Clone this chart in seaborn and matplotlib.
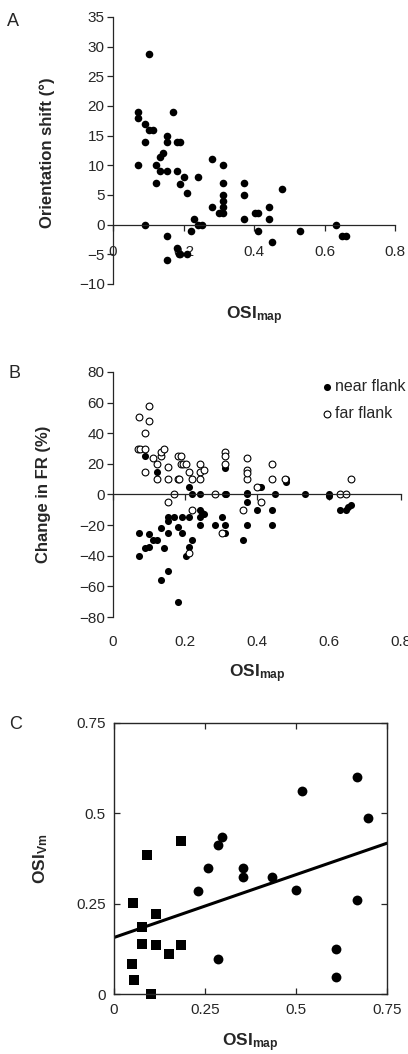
import matplotlib
matplotlib.use('Agg')
import matplotlib.pyplot as plt
import seaborn as sns

# panel A: orientation shift vs OSI_map
shift_osi = [0.103, 0.071, 0.071, 0.071, 0.092, 0.092, 0.092, 0.103, 0.113, 0.122,
             0.122, 0.132, 0.141, 0.132, 0.152, 0.152, 0.152, 0.152, 0.152, 0.170,
             0.182, 0.191, 0.182, 0.191, 0.201, 0.210, 0.182, 0.186, 0.191, 0.210,
             0.220, 0.230, 0.241, 0.241, 0.253, 0.281, 0.281, 0.300, 0.312, 0.312,
             0.312, 0.312, 0.312, 0.312, 0.370, 0.370, 0.370, 0.402, 0.412, 0.412,
             0.442, 0.442, 0.452, 0.480, 0.529, 0.632, 0.649, 0.660]
shift_deg = [28.8, 19, 17.9, 10, 17, 14, 0, 16, 16, 10,
             7, 11.4, 12, 9, 15, 14, 9, -2, -6, 19,
             14, 14, 9, 6.8, 8, 5.4, -4, -5, -5, -5,
             -1, 1, 8, 0, 0, 11, 3, 2, 2, 10,
             7, 5, 4, 3, 7, 5, 1, 2, 2, -1,
             3, 1, -3, 6, -1, 0, -2, -2]

# panel B: change in firing rate, near and far flank
near_osi = [0.090, 0.123, 0.072, 0.072, 0.090, 0.101, 0.101, 0.111, 0.123, 0.132,
            0.141, 0.132, 0.152, 0.152, 0.152, 0.152, 0.170, 0.191, 0.180, 0.191,
            0.180, 0.211, 0.220, 0.211, 0.220, 0.211, 0.202, 0.241, 0.241, 0.247,
            0.252, 0.241, 0.241, 0.282, 0.302, 0.311, 0.311, 0.311, 0.311, 0.315,
            0.371, 0.371, 0.371, 0.371, 0.362, 0.401, 0.405, 0.411, 0.442, 0.442,
            0.451, 0.481, 0.481, 0.532, 0.599, 0.600, 0.630, 0.648, 0.654, 0.660]
near_fr = [25, 15, -25, -40, -35, -34, -26, -30, -30, -22,
           -35, -56, -50, -25, -17, -15, -15, -15, -21, -25,
           -70, 5, 0, -15, -30, -34, -40, 0, -10, -12,
           -13, -15, -20, -20, -15, -20, -25, 17, 0, 0,
           0, 1, -5, -20, -30, -10, 5, 5, -10, -20,
           0, 10, 8, 0, 0, -1, -10, -10, -8, -7]
far_osi = [0.072, 0.101, 0.101, 0.090, 0.070, 0.074, 0.090, 0.111, 0.132, 0.134,
           0.141, 0.123, 0.090, 0.152, 0.123, 0.152, 0.180, 0.184, 0.180, 0.190,
           0.190, 0.195, 0.204, 0.211, 0.220, 0.241, 0.241, 0.252, 0.241, 0.169,
           0.152, 0.220, 0.211, 0.282, 0.302, 0.311, 0.311, 0.311, 0.371, 0.371,
           0.371, 0.362, 0.399, 0.410, 0.442, 0.442, 0.479, 0.630, 0.648, 0.660,
           0.371]
far_fr = [50.5, 58, 48, 40, 30, 30, 30, 24, 25, 28,
          30, 20, 15, 18, 10, 10, 10, 10, 25, 25,
          20, 20, 20, 15, 10, 20, 15, 16, 10, 0,
          -5, -10, -38, 0, -25, 28, 25, 20, 24, 16,
          10, -10, 5, -5, 20, 10, 10, 0, 0, 10,
          14]

# panel C: OSI_Vm vs OSI_map
sq_osi_map = [0.052, 0.091, 0.185, 0.116, 0.076, 0.078, 0.116, 0.151, 0.183, 0.050, 0.056, 0.103]
sq_osi_vm = [0.253, 0.385, 0.423, 0.222, 0.187, 0.138, 0.135, 0.112, 0.135, 0.085, 0.039, 0.0]
circ_osi_map = [0.232, 0.257, 0.285, 0.298, 0.285, 0.354, 0.354, 0.435, 0.501, 0.517,
                0.611, 0.611, 0.668, 0.697, 0.668]
circ_osi_vm = [0.286, 0.349, 0.413, 0.434, 0.097, 0.350, 0.323, 0.324, 0.288, 0.561,
               0.124, 0.049, 0.600, 0.488, 0.260]
fit_intercept = 0.157
fit_slope = 0.347

ticks_08 = [0, 0.2, 0.4, 0.6, 0.8]
labels_08 = ['0', '0.2', '0.4', '0.6', '0.8']
ticks_075 = [0, 0.25, 0.5, 0.75]
labels_075 = ['0', '0.25', '0.5', '0.75']

sns.set_style('ticks')
plt.rcParams['font.family'] = ['Liberation Sans', 'DejaVu Sans']
plt.rcParams['mathtext.fontset'] = 'custom'
plt.rcParams['mathtext.rm'] = 'Liberation Sans'
plt.rcParams['mathtext.bf'] = 'Liberation Sans:bold'
plt.rcParams['font.size'] = 11
plt.rcParams['axes.linewidth'] = 0.9

osi_map_label = r'$\mathbf{OSI_{map}}$'
fs = 11      # tick labels
lfs = 12     # axis labels

fig = plt.figure(figsize=(4.08, 10.54), dpi=100)
axA = fig.add_axes([0.2770, 0.7306, 0.6915, 0.2533])
axB = fig.add_axes([0.2770, 0.4146, 0.7058, 0.2325])
axC = fig.add_axes([0.2794, 0.0566, 0.669, 0.2577])

# ---- A ----
sns.scatterplot(x=shift_osi, y=shift_deg, ax=axA, color='black', s=30,
                edgecolor='black', linewidth=0, clip_on=False)
axA.set_xlim(0, 0.8)
axA.set_ylim(-10, 35)
axA.set_yticks(range(-10, 36, 5))
axA.set_xticks(ticks_08, labels=labels_08)
axA.spines['bottom'].set_position(('data', 0))
axA.spines['top'].set_visible(False)
axA.spines['right'].set_visible(False)
axA.tick_params(axis='y', direction='out', length=4.5, width=0.9, labelsize=fs, pad=1.5)
axA.tick_params(axis='x', direction='out', length=4, width=0.9, labelsize=fs, pad=11)
axA.set_xlabel(osi_map_label, fontsize=lfs + 0.5, va='top')
axA.xaxis.set_label_coords(0.5, -0.075)
axA.set_ylabel('Orientation shift (°)', fontsize=lfs, fontweight='bold')
axA.yaxis.set_label_coords(-0.205, 0.49)

# ---- B ----
sns.scatterplot(x=near_osi, y=near_fr, ax=axB, color='black', s=26,
                edgecolor='black', linewidth=0, label='near flank', clip_on=False)
sns.scatterplot(x=far_osi, y=far_fr, ax=axB, s=24, facecolor='white',
                edgecolor='black', linewidth=0.8, label='far flank', clip_on=False)
axB.set_xlim(0, 0.8)
axB.set_ylim(-80, 80)
axB.set_yticks(range(-80, 81, 20))
axB.set_xticks(ticks_08)
axB.spines['bottom'].set_position(('data', 0))
axB.spines['top'].set_visible(False)
axB.spines['right'].set_visible(False)
axB.tick_params(axis='y', direction='out', length=4.5, width=0.9, labelsize=fs, pad=1.5)
axB.tick_params(axis='x', direction='out', length=4, width=0.9, labelbottom=False)
secB = axB.secondary_xaxis('bottom')
secB.set_xticks(ticks_08, labels=labels_08)
secB.tick_params(length=0, labelsize=fs, pad=13)
secB.spines['bottom'].set_visible(False)
axB.set_xlabel(osi_map_label, fontsize=lfs + 0.5, va='top')
axB.xaxis.set_label_coords(0.5, -0.185)
axB.set_ylabel('Change in FR (%)', fontsize=lfs, fontweight='bold')
axB.yaxis.set_label_coords(-0.215, 0.5)
axB.legend(loc='upper right', bbox_to_anchor=(1.05, 1.01), frameon=False,
           fontsize=11.5, handletextpad=0.05, labelspacing=0.75, borderaxespad=0.2,
           handlelength=1.0)

# ---- C ----
sns.scatterplot(x=sq_osi_map, y=sq_osi_vm, ax=axC, marker='s', color='black', s=46,
                edgecolor='black', linewidth=0, clip_on=False)
sns.scatterplot(x=circ_osi_map, y=circ_osi_vm, ax=axC, marker='o', color='black', s=50,
                edgecolor='black', linewidth=0, clip_on=False)
fit_x = [0, 0.75]
fit_y = [fit_intercept + fit_slope * v for v in fit_x]
sns.lineplot(x=fit_x, y=fit_y, ax=axC, color='black', linewidth=2.2)
axC.set_xlim(0, 0.75)
axC.set_ylim(0, 0.75)
axC.set_xticks(ticks_075, labels=labels_075)
axC.set_yticks(ticks_075, labels=labels_075)
axC.tick_params(direction='in', top=True, right=True, length=4, width=0.9,
                labelsize=fs, pad=6)
for side in ['top', 'right', 'bottom', 'left']:
    axC.spines[side].set_visible(True)
    axC.spines[side].set_linewidth(1.0)
axC.set_xlabel(osi_map_label, fontsize=lfs + 0.5, va='top')
axC.xaxis.set_label_coords(0.5, -0.138)
axC.set_ylabel(r'$\mathbf{OSI_{Vm}}$', fontsize=lfs + 0.5)
axC.yaxis.set_label_coords(-0.234, 0.5)

# panel letters
fig.text(7 / 408, 1 - 13 / 1054, 'A', fontsize=13, va='top', ha='left')
fig.text(9 / 408, 1 - 365 / 1054, 'B', fontsize=13, va='top', ha='left')
fig.text(9 / 408, 1 - 716 / 1054, 'C', fontsize=13, va='top', ha='left')

fig.savefig('out.png', dpi=100)
